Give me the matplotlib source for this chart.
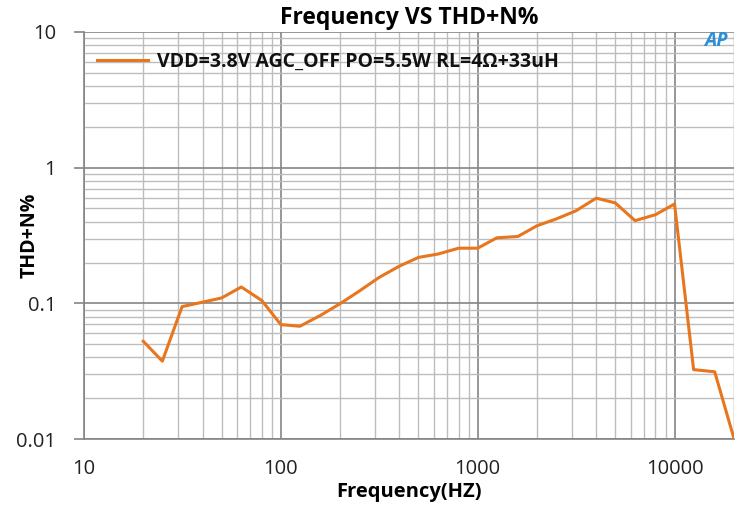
import matplotlib
matplotlib.use("Agg")
from matplotlib import pyplot as plt
from matplotlib.ticker import FixedLocator, NullFormatter

freq = [20, 25, 31.5, 40, 50, 63, 80, 100, 125, 160, 200, 250, 315, 400, 500, 630,
        800, 1000, 1250, 1600, 2000, 2500, 3150, 4000, 5000, 6300, 8000, 10000,
        12500, 16000, 20000]
thdn = [0.0526, 0.0375, 0.0946, 0.102, 0.1096, 0.132, 0.105, 0.0697, 0.0678, 0.082,
        0.0995, 0.123, 0.155, 0.188, 0.218, 0.231, 0.255, 0.255, 0.304, 0.311,
        0.373, 0.418, 0.48, 0.596, 0.55, 0.407, 0.45, 0.54,
        0.0325, 0.0313, 0.0102]
series_label = "VDD=3.8V AGC_OFF PO=5.5W RL=4\u03a9+33uH"
x_ticks = [10, 100, 1000, 10000]
x_tick_labels = ["10", "100", "1000", "10000"]
y_ticks = [0.01, 0.1, 1, 10]
y_tick_labels = ["0.01", "0.1", "1", "10"]

plt.rcParams['font.family'] = ['Open Sans', 'DejaVu Sans']

fig = plt.figure(figsize=(7.48, 5.07), dpi=100)
ax = fig.add_axes([0.1123, 0.134, 0.981 - 0.1123, 0.937 - 0.134])

ax.plot(freq, thdn, color='#E8761E', lw=2.2, label=series_label, zorder=3)

ax.set_xscale('log')
ax.set_yscale('log')
ax.set_xlim(10, 20000)
ax.set_ylim(0.01, 10)

# grid: darker decades, lighter minors
minor_x = [m * d for d in [10, 100, 1000, 10000] for m in range(2, 10) if m * d <= 20000]
minor_y = [m * d for d in [0.01, 0.1, 1] for m in range(2, 10)]
ax.xaxis.set_major_locator(FixedLocator(x_ticks))
ax.yaxis.set_major_locator(FixedLocator(y_ticks))
ax.xaxis.set_minor_locator(FixedLocator(minor_x))
ax.yaxis.set_minor_locator(FixedLocator(minor_y))
ax.xaxis.set_minor_formatter(NullFormatter())
ax.yaxis.set_minor_formatter(NullFormatter())
ax.set_xticklabels(x_tick_labels)
ax.set_yticklabels(y_tick_labels)

ax.grid(which='major', color='#858585', lw=1.2)
ax.grid(which='minor', color='#bdbdbd', lw=1.0)
ax.axvline(20000, color='#bdbdbd', lw=1.0)

for s in ['top', 'right']:
    ax.spines[s].set_visible(False)
ax.spines['left'].set_color('#858585')
ax.spines['bottom'].set_color('#858585')
ax.spines['left'].set_linewidth(1.2)
ax.spines['bottom'].set_linewidth(1.2)

ax.tick_params(axis='x', which='both', length=0, pad=14, labelsize=14.5, colors='#222222')
ax.tick_params(axis='y', which='major', length=7, width=1.2, color='#858585',
               pad=13, labelsize=14.5, labelcolor='#222222')
ax.tick_params(axis='y', which='minor', length=0)

ax.set_title('Frequency VS THD+N%', fontsize=16.5, fontweight='bold', pad=6)
ax.set_xlabel('Frequency(HZ)', fontsize=14.5, fontweight='bold')
ax.xaxis.set_label_coords(0.5, -0.105)
ax.set_ylabel('THD+N%', fontsize=14, fontweight='bold')
ax.yaxis.set_label_coords(-0.083, 0.5)
ax.yaxis.label.set_verticalalignment('center')

leg = ax.legend(loc='upper left', frameon=False,
                prop={'weight': 'bold', 'size': 14}, handlelength=2.6,
                handletextpad=0.5, borderaxespad=0.0, bbox_to_anchor=(0.008, 0.97))
for t in leg.get_texts():
    t.set_color('#111111')

# small logo in the corner
fig.text(0.957, 0.92, 'AP', color='#2a8fd6', fontsize=14, fontweight='bold',
         style='italic', ha='center', va='center')

fig.savefig('out.png', dpi=100)
